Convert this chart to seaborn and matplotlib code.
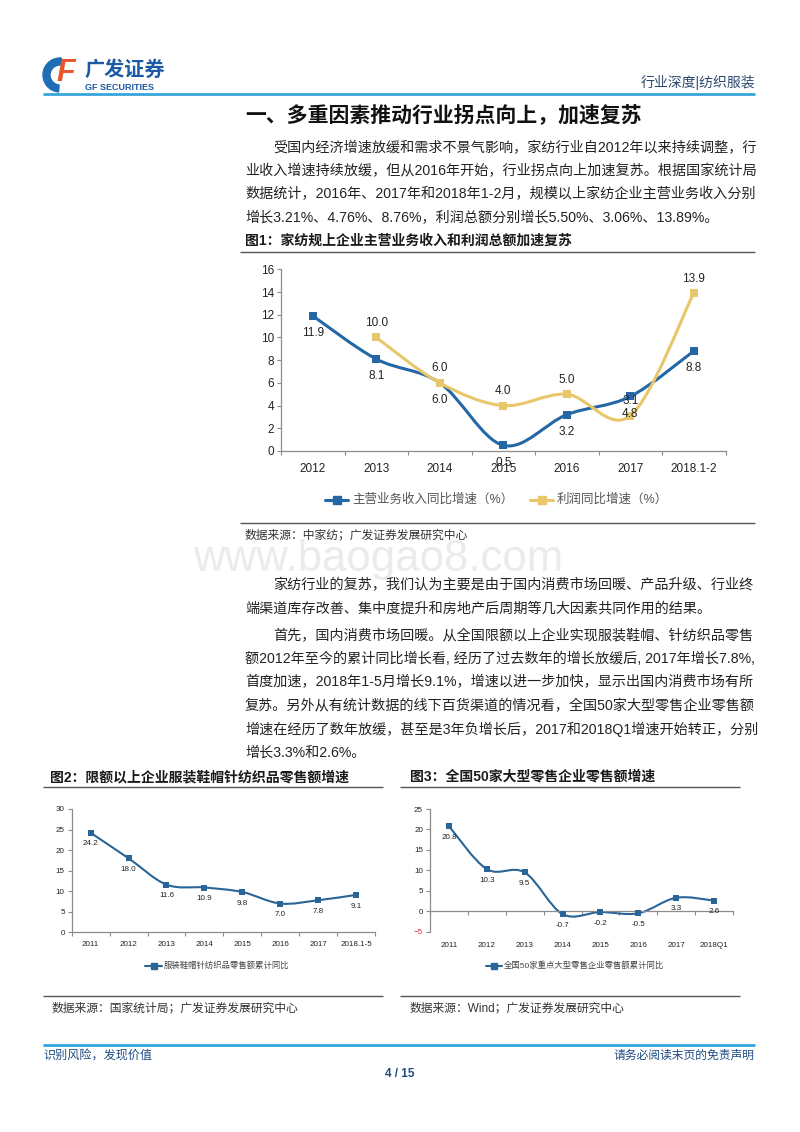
import numpy as np
import pandas as pd
import matplotlib
matplotlib.use("Agg")
import matplotlib.pyplot as plt
import seaborn as sns
from matplotlib.path import Path
from matplotlib.patches import PathPatch, Wedge
from matplotlib.lines import Line2D

# ---- data ----
years1 = ["2012", "2013", "2014", "2015", "2016", "2017", "2018.1-2"]
revenue1 = [11.9, 8.1, 6.0, 0.5, 3.2, 4.8, 8.8]
profit1 = [np.nan, 10.0, 6.0, 4.0, 5.0, 3.1, 13.9]
series1_names = ["主营业务收入同比增速（%）", "利润同比增速（%）"]

years2 = ["2011", "2012", "2013", "2014", "2015", "2016", "2017", "2018.1-5"]
apparel2 = [24.2, 18.0, 11.6, 10.9, 9.8, 7.0, 7.8, 9.1]
series2_name = "服装鞋帽针纺织品零售额累计同比"

years3 = ["2011", "2012", "2013", "2014", "2015", "2016", "2017", "2018Q1"]
retail3 = [20.8, 10.3, 9.5, -0.7, -0.2, -0.5, 3.3, 2.6]
series3_name = "全国50家重点大型零售企业零售额累计同比"

para1 = [
    "受国内经济增速放缓和需求不景气影响，家纺行业自2012年以来持续调整，行",
    "业收入增速持续放缓，但从2016年开始，行业拐点向上加速复苏。根据国家统计局",
    "数据统计，2016年、2017年和2018年1-2月，规模以上家纺企业主营业务收入分别",
    "增长3.21%、4.76%、8.76%，利润总额分别增长5.50%、3.06%、13.89%。",
]
para2 = [
    "家纺行业的复苏，我们认为主要是由于国内消费市场回暖、产品升级、行业终",
    "端渠道库存改善、集中度提升和房地产后周期等几大因素共同作用的结果。",
]
para3 = [
    "首先，国内消费市场回暖。从全国限额以上企业实现服装鞋帽、针纺织品零售",
    "额2012年至今的累计同比增长看, 经历了过去数年的增长放缓后, 2017年增长7.8%,",
    "首度加速，2018年1-5月增长9.1%，增速以进一步加快，显示出国内消费市场有所",
    "复苏。另外从有统计数据的线下百货渠道的情况看，全国50家大型零售企业零售额",
    "增速在经历了数年放缓，甚至是3年负增长后，2017和2018Q1增速开始转正，分别",
    "增长3.3%和2.6%。",
]

BLUE = "#2467a6"
GOLD = "#e8c66a"
LINE_BLUE = "#2a6597"
TXT = "#222222"

sns.set_theme(style="white")
plt.rcParams["font.family"] = ["Liberation Sans", "Noto Sans CJK SC", "DejaVu Sans"]

W, H = 800, 1132
fig = plt.figure(figsize=(W / 100, H / 100), dpi=100)

# page overlay in pixel coordinates
page = fig.add_axes([0, 0, 1, 1])
page.set_xlim(0, W)
page.set_ylim(H, 0)
page.axis("off")


def hline(y, x0, x1, color="#555555", lw=1.0):
    page.plot([x0, x1], [y, y], color=color, lw=lw, solid_capstyle="butt")


def put(x, y, s, size, **kw):
    kw.setdefault("color", TXT)
    kw.setdefault("va", "center")
    kw.setdefault("zorder", 3)
    page.text(x, y, s, fontsize=size, **kw)


def smooth_path(x, y):
    pts = np.column_stack([x, y]).astype(float)
    n = len(pts)
    verts, codes = [pts[0]], [Path.MOVETO]
    for i in range(n - 1):
        p0, p1 = pts[max(i - 1, 0)], pts[i]
        p2, p3 = pts[i + 1], pts[min(i + 2, n - 1)]
        verts += [p1 + (p2 - p0) / 6, p2 - (p3 - p1) / 6, p2]
        codes += [Path.CURVE4] * 3
    return Path(verts, codes)


def draw_series(ax, values, color, lw, ms):
    df = pd.DataFrame({"x": np.arange(len(values)), "y": values}).dropna()
    ax.add_patch(PathPatch(smooth_path(df["x"], df["y"]), fill=False,
                           edgecolor=color, lw=lw, zorder=2))
    sns.scatterplot(data=df, x="x", y="y", marker="s", s=ms, color=color,
                    edgecolor=color, linewidth=0, zorder=3, ax=ax, legend=False)
    return df


def label_points(ax, df, dy, size):
    for x, y in zip(df["x"], df["y"]):
        ax.annotate(f"{y:.1f}", (x, y), xytext=(0, dy), textcoords="offset points",
                    ha="center", va="center", fontsize=size, color=TXT)


def style_axis(ax, labels, size, pad, ylim, yticks):
    n = len(labels)
    ax.set_xlim(-0.5, n - 0.5)
    ax.set_ylim(*ylim)
    ax.set_yticks(yticks)
    ax.set_xticks(np.arange(-0.5, n, 1))
    ax.set_xticklabels([])
    ax.set_xticks(np.arange(n), minor=True)
    ax.set_xticklabels(labels, minor=True)
    ax.tick_params(axis="x", which="minor", length=0, pad=pad, labelsize=size, colors=TXT)
    ax.tick_params(axis="x", which="major", length=3, width=0.8, color="#8c8c8c", direction="out")
    ax.tick_params(axis="y", length=3, width=0.8, color="#8c8c8c", pad=2, labelsize=size,
                   labelcolor=TXT, direction="out", left=True)
    ax.tick_params(axis="x", bottom=True, which="both")
    ax.set_xlabel("")
    ax.set_ylabel("")
    sns.despine(ax=ax)
    for side in ("left", "bottom"):
        ax.spines[side].set_color("#8c8c8c")
        ax.spines[side].set_linewidth(0.9)
    ax.patch.set_alpha(0)


# ---- header ----
page.add_patch(Wedge((60, 75), 17, 95, 275, width=7, color="#1f6db5"))
put(66, 73, "F", 22, color="#e9542a", weight="bold", style="italic", ha="center")
put(84, 70, "广发证券", 14.5, color="#1d5aa5", weight="bold", ha="left")
put(85, 88, "GF SECURITIES", 6.5, color="#1d5aa5", weight="bold", ha="left")
put(755, 82, "行业深度|纺织服装", 10, color="#2b4a6e", ha="right")
hline(94, 43, 755, color="#35a5dc", lw=2)

put(245, 115, "一、多重因素推动行业拐点向上，加速复苏", 15, weight="bold", ha="left", color="#111111")

body = 10.15
for i, s in enumerate(para1):
    put(273 if i == 0 else 245, 148 + i * 23.3, s, body, ha="left")

# ---- figure 1 ----
put(245, 241, "图1：家纺规上企业主营业务收入和利润总额加速复苏", 10, weight="bold", ha="left", color="#1a1a1a")
hline(251.5, 240, 755)
hline(522.5, 240, 755)
put(245, 535, "数据来源：中家纺；广发证券发展研究中心", 8.5, ha="left", color="#333333")

ax1 = fig.add_axes([281 / W, 1 - 451 / H, 444.5 / W, 181.7 / H])
d_rev = draw_series(ax1, revenue1, BLUE, 2.2, 38)
d_pro = draw_series(ax1, profit1, GOLD, 2.2, 38)
style_axis(ax1, years1, 8.5, 9, (0, 16), np.arange(0, 17, 2))
label_points(ax1, d_rev, -12.5, 8.5)
label_points(ax1, d_pro, 10.5, 8.5)

for (x0, x1, tx), name, col in zip([(325, 348, 352), (530, 553, 557)], series1_names, [BLUE, GOLD]):
    page.add_line(Line2D([x0, x1], [500, 500], color=col, lw=2.2))
    page.add_line(Line2D([(x0 + x1) / 2], [500], color=col, marker="s", ms=5.5, lw=0))
    put(tx, 500, name, 9, ha="left", color="#555555")

# ---- watermark and body text ----
put(193, 571, "www.baogao8.com", 31.5, ha="left", va="baseline", color="#ebebeb",
    family="Liberation Sans", zorder=1)

for i, s in enumerate(para2):
    put(273 if i == 0 else 245, 585 + i * 23.3, s, body, ha="left")
for i, s in enumerate(para3):
    put(273 if i == 0 else 245, 636 + i * 23.3, s, body, ha="left")

# ---- figure 2 ----
put(50, 777, "图2：限额以上企业服装鞋帽针纺织品零售额增速", 10, weight="bold", ha="left", color="#1a1a1a")
hline(786.5, 43, 383)
hline(996, 43, 383)
put(52, 1008, "数据来源：国家统计局；广发证券发展研究中心", 8.5, ha="left", color="#333333")

ax2 = fig.add_axes([71.7 / W, 1 - 932.3 / H, 303.3 / W, 123.3 / H])
d2 = draw_series(ax2, apparel2, LINE_BLUE, 1.5, 20)
style_axis(ax2, years2, 5.8, 6, (0, 30), np.arange(0, 31, 5))
label_points(ax2, d2, -8, 5.8)
page.add_line(Line2D([145, 162], [966, 966], color=LINE_BLUE, lw=1.5))
page.add_line(Line2D([153.5], [966], color=LINE_BLUE, marker="s", ms=3.8, lw=0))
put(164, 966, series2_name, 6, ha="left", color="#444444")

# ---- figure 3 ----
put(410, 777, "图3：全国50家大型零售企业零售额增速", 10, weight="bold", ha="left", color="#1a1a1a")
hline(786.5, 400, 740)
hline(996, 400, 740)
put(410, 1008, "数据来源：Wind；广发证券发展研究中心", 8.5, ha="left", color="#333333")

ax3 = fig.add_axes([430 / W, 1 - 931.7 / H, 303 / W, 122.7 / H])
d3 = draw_series(ax3, retail3, LINE_BLUE, 1.5, 20)
style_axis(ax3, years3, 5.8, 6, (-5, 25), np.arange(-5, 26, 5))
ax3.spines["bottom"].set_position(("data", 0))
ax3.tick_params(axis="x", which="minor", labelbottom=False)
for i, lab in enumerate(years3):
    ax3.text(i, -0.11, lab, transform=ax3.get_xaxis_transform(), ha="center", va="center",
             fontsize=5.8, color=TXT)
ax3.get_yticklabels()[0].set_color("#e02020")
label_points(ax3, d3, -8, 5.8)
page.add_line(Line2D([486, 502], [966, 966], color=LINE_BLUE, lw=1.5))
page.add_line(Line2D([494], [966], color=LINE_BLUE, marker="s", ms=3.8, lw=0))
put(504, 966, series3_name, 6, ha="left", color="#444444")

# ---- footer ----
hline(1045, 43, 755, color="#2ea6de", lw=2)
put(43, 1056, "识别风险，发现价值", 8.7, ha="left", color="#1f4b82")
put(755, 1056, "请务必阅读末页的免责声明", 8.5, ha="right", color="#1f4b82")
put(400, 1074, "4 / 15", 8.5, ha="center", color="#1f4b82", weight="bold")

fig.savefig("out.png", dpi=100)
